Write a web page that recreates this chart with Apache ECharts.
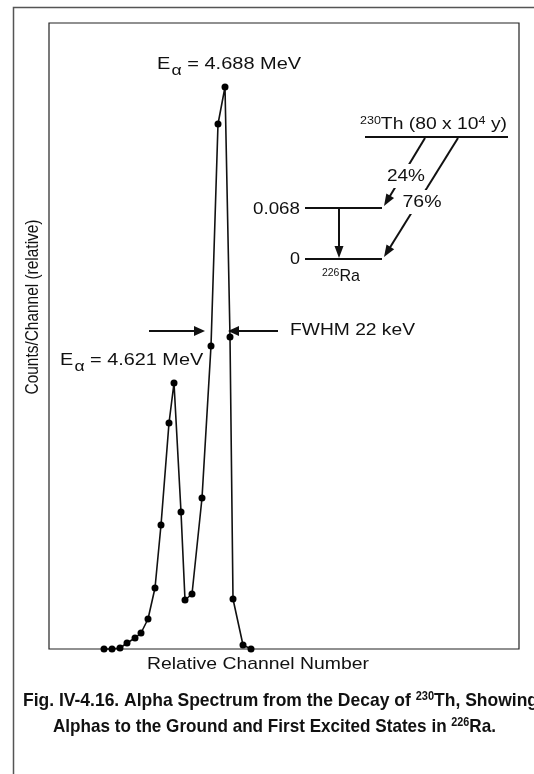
<!DOCTYPE html>
<html><head><meta charset="utf-8">
<script src="https://cdn.jsdelivr.net/npm/echarts@6/dist/echarts.min.js"></script>
<style>html,body{margin:0;padding:0;background:#fff}#c{width:534px;height:774px}</style>
</head><body><div id="c"></div>
<script>
// ---- data (relative channel, relative counts) ----
const channel = [55, 63, 71, 78, 86, 92, 99, 106, 112, 120, 125, 132, 136, 143, 153, 162, 169, 176, 181, 184, 194, 202];
const counts  = [0, 0, 1, 6, 11, 16, 30, 61, 124, 226, 266, 137, 49, 55, 151, 303, 525, 562, 312, 50, 4, 0];
const xRange = [0, 470];
const yRange = [0, 626];
const xName = 'Relative Channel Number';
const yName = 'Counts/Channel (relative)';
const peakHigh = ' = 4.688 MeV';
const peakLow = ' = 4.621 MeV';
const fwhmText = 'FWHM 22 keV';
const levelLabels = ['0.068', '0'];
const branchLabels = ['24%', '76%'];
const captionLines = [
  [['Fig. IV-4.16. Alpha Spectrum from the Decay of ', 'b'], ['230', 'p'], ['Th, Showing', 'b']],
  [['Alphas to the Ground and First Excited States in ', 'b'], ['226', 'p'], ['Ra.', 'b']]
];

const FAM = '"Liberation Sans", Arial, Helvetica, sans-serif';
const INK = '#111';
const ctx = document.createElement('canvas').getContext('2d');
function measure(pieces, rich) {
  let t = 0;
  for (const [s, k] of pieces) {
    const r = rich[k];
    ctx.font = (r.fontWeight || 'normal') + ' ' + r.fontSize + 'px ' + FAM;
    t += ctx.measureText(s).width;
  }
  return t;
}
function tok(size, extra) {
  return Object.assign({fontSize: size, fontFamily: FAM, fontWeight: 'normal', fill: INK, color: INK, lineHeight: size + 1}, extra || {});
}
function label(pieces, rich, x, y, align, width, rot, extra) {
  const sx = width / measure(pieces, rich);
  const el = {
    type: 'text', x: x, y: y, scaleX: sx, rotation: rot || 0, silent: true, z: 10,
    style: Object.assign({
      text: pieces.map(([s, k]) => '{' + k + '|' + s + '}').join(''),
      rich: rich, fill: INK,
      align: align, textAlign: align, verticalAlign: 'middle', textVerticalAlign: 'middle'
    }, (extra && extra.style) || {})
  };
  if (extra && extra.scaleY) el.scaleY = extra.scaleY;
  return el;
}
function arrow(x1, y1, x2, y2, hl, hw, lw) {
  const dx = x2 - x1, dy = y2 - y1, L = Math.hypot(dx, dy), ux = dx / L, uy = dy / L;
  const bx = x2 - ux * hl, by = y2 - uy * hl, px = -uy, py = ux;
  return [
    {type: 'line', silent: true, shape: {x1: x1, y1: y1, x2: bx + ux, y2: by + uy}, style: {stroke: INK, lineWidth: lw}},
    {type: 'polygon', silent: true, shape: {points: [[x2, y2], [bx + px * hw / 2, by + py * hw / 2], [bx - px * hw / 2, by - py * hw / 2]]}, style: {fill: INK}}
  ];
}
function seg(x1, y1, x2, y2, lw) {
  return {type: 'line', silent: true, shape: {x1: x1, y1: y1, x2: x2, y2: y2}, style: {stroke: INK, lineWidth: lw}};
}

const plain = {b: tok(17)};
const eRich = {b: tok(17, {lineHeight: 18}), s: tok(15, {lineHeight: 15, padding: [13, 0, 0, 1]})};
const supRich = {b: tok(17, {lineHeight: 18}), p: tok(11, {lineHeight: 10, verticalAlign: 'top'})};
const capRich = {b: tok(19, {fontWeight: 'bold', lineHeight: 20}), p: tok(12, {fontWeight: 'bold', lineHeight: 14, verticalAlign: 'top'})};
const gapBg = {style: {backgroundColor: '#fff', padding: [3, 1]}};

const graphics = [
  {type: 'rect', silent: true, shape: {x: 13.5, y: 7.5, width: 700, height: 900}, style: {fill: 'none', stroke: '#555', lineWidth: 1.5}},
  label([['E', 'b'], ['\u03b1', 's'], [peakHigh, 'b']], eRich, 157, 64, 'left', 143),
  label([['E', 'b'], ['\u03b1', 's'], [peakLow, 'b']], eRich, 60, 360, 'left', 142),
  label([[fwhmText, 'b']], plain, 290, 330, 'left', 125),
  ...arrow(149, 331, 205, 331, 11, 10, 2),
  ...arrow(278, 331, 228, 331, 11, 10, 2),
  label([['230', 'p'], ['Th (80 x 10', 'b'], ['4', 'p'], [' y)', 'b']], supRich, 360, 124, 'left', 147),
  seg(365, 137, 508, 137, 2),
  seg(305, 208, 382, 208, 2),
  seg(305, 259, 382, 259, 2),
  ...arrow(339, 208, 339, 258, 12, 9, 2),
  ...arrow(425, 138, 384, 206, 12, 9, 2),
  ...arrow(458, 138, 384, 257, 12, 9, 2),
  label([[branchLabels[0], 'b']], plain, 406, 176, 'center', 38, 0, gapBg),
  label([[branchLabels[1], 'b']], plain, 422, 202, 'center', 39, 0, gapBg),
  label([[levelLabels[0], 'b']], plain, 300, 209, 'right', 47),
  label([[levelLabels[1], 'b']], plain, 300, 259, 'right', 10),
  label([['226', 'p'], ['Ra', 'b']], supRich, 322, 276, 'left', 38),
  label([[xName, 'b']], plain, 147, 664, 'left', 222),
  label([[yName, 'b']], {b: tok(15.5)}, 33, 307, 'center', 175, Math.PI / 2, {scaleY: 1.15}),
  label(captionLines[0], capRich, 23, 701, 'left', 515),
  label(captionLines[1], capRich, 53, 727, 'left', 443)
];

const chart = echarts.init(document.getElementById('c'), null, {renderer: 'canvas'});
chart.setOption({
  animation: false,
  backgroundColor: '#fff',
  grid: {left: 49, top: 23, width: 470, height: 626, show: true, borderColor: '#222', borderWidth: 1.2, backgroundColor: 'transparent'},
  xAxis: {type: 'value', min: xRange[0], max: xRange[1], axisLine: {show: false}, axisTick: {show: false}, axisLabel: {show: false}, splitLine: {show: false}},
  yAxis: {type: 'value', min: yRange[0], max: yRange[1], axisLine: {show: false}, axisTick: {show: false}, axisLabel: {show: false}, splitLine: {show: false}},
  series: [{
    type: 'line',
    data: channel.map((c, i) => [c, counts[i]]),
    symbol: 'circle', symbolSize: 7, showAllSymbol: true,
    itemStyle: {color: '#000'},
    lineStyle: {color: INK, width: 1.6},
    clip: false, z: 3
  }],
  graphic: graphics
});
</script></body></html>
